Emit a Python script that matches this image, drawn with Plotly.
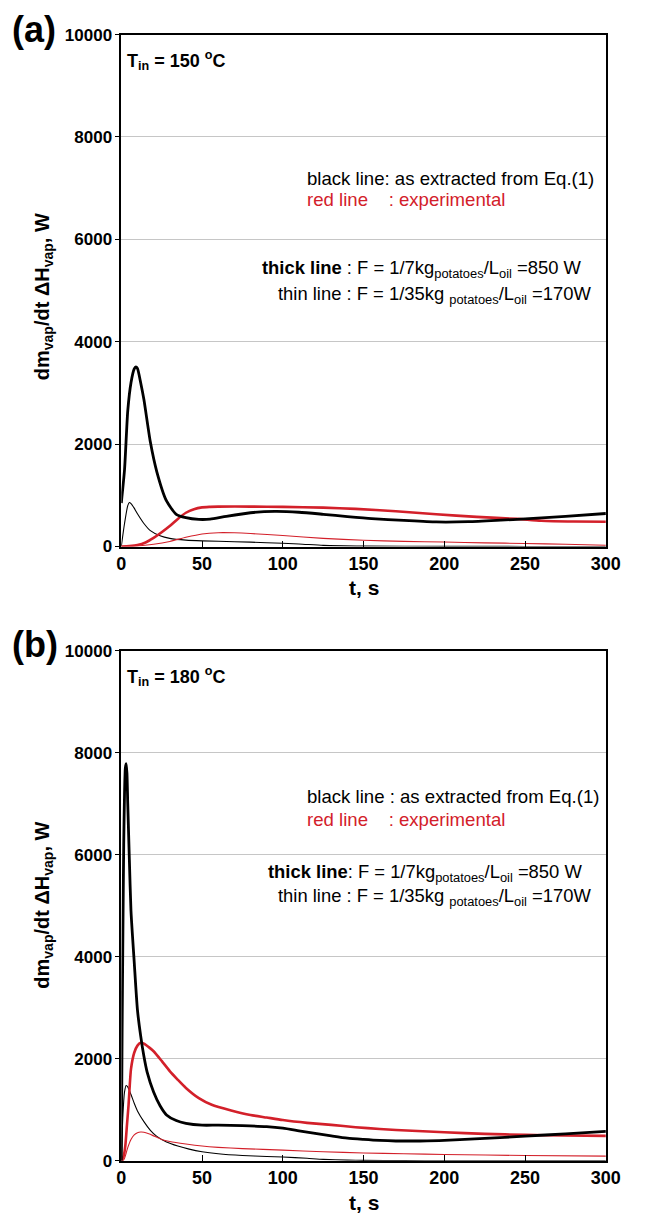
import plotly.graph_objects as go

W, H = 648, 1226
RED = "#d3202a"
FONT = "Liberation Sans"

# ---------------- Panel (a): T_in = 150 C ----------------
a_thick_black_t = [0, 2, 4, 6, 8, 9, 10, 12, 14, 18, 22, 28, 34, 40, 48, 55, 65, 80, 95, 110, 125, 140, 155, 175, 195, 215, 235, 250, 275, 300]
a_thick_black_v = [850, 1500, 2650, 3200, 3470, 3510, 3480, 3200, 2870, 2040, 1460, 890, 630, 565, 530, 535, 590, 660, 685, 670, 630, 585, 545, 510, 480, 485, 515, 540, 590, 645]

a_thick_red_t = [0, 5, 10, 15, 20, 25, 30, 35, 40, 45, 50, 55, 60, 80, 100, 125, 145, 170, 195, 220, 245, 260, 280, 300]
a_thick_red_v = [0, 10, 30, 80, 170, 280, 400, 540, 660, 730, 765, 775, 780, 780, 775, 760, 735, 690, 630, 580, 540, 505, 490, 485]

a_thin_black_t = [0, 2, 4, 5, 6, 8, 10, 14, 18, 24, 30, 40, 50, 70, 90, 110, 125, 150, 200, 250, 300]
a_thin_black_v = [0, 450, 800, 860, 840, 750, 640, 450, 310, 210, 160, 125, 110, 95, 75, 50, 22, 8, 4, 2, 0]

a_thin_red_t = [0, 10, 20, 30, 40, 50, 60, 70, 80, 100, 125, 150, 175, 200, 225, 250, 275, 300]
a_thin_red_v = [0, 10, 45, 100, 180, 245, 270, 268, 255, 215, 160, 122, 100, 88, 72, 60, 45, 25]

# ---------------- Panel (b): T_in = 180 C ----------------
b_thick_black_t = [0, 0.5, 1, 1.5, 2, 2.5, 3, 3.5, 4, 5, 6, 8, 10, 12, 14, 16, 20, 24, 28, 34, 40, 50, 60, 75, 90, 100, 110, 120, 130, 140, 150, 160, 170, 185, 200, 225, 250, 275, 300]
b_thick_black_v = [0, 2500, 4500, 6200, 7200, 7700, 7790, 7600, 7000, 5900, 4900, 3900, 2960, 2450, 2050, 1740, 1350, 1080, 900, 790, 737, 700, 700, 690, 670, 640, 590, 540, 490, 445, 420, 400, 390, 390, 400, 440, 485, 530, 577]

b_thick_red_t = [0, 1.5, 2.5, 3.5, 4.5, 6, 8, 10, 12, 14, 17, 20, 25, 30, 35, 40, 48, 56, 68, 80, 90, 100, 115, 130, 145, 160, 180, 200, 225, 250, 275, 300]
b_thick_red_v = [0, 100, 300, 700, 1100, 1800, 2120, 2260, 2315, 2300, 2230, 2150, 1960, 1760, 1590, 1430, 1230, 1100, 990, 900, 850, 800, 745, 705, 660, 625, 590, 560, 530, 510, 497, 490]

b_thin_black_t = [0, 1, 2, 3, 4, 6, 8, 10, 14, 18, 22, 28, 35, 42, 50, 60, 75, 90, 100, 115, 125, 140, 150, 175, 200, 250, 300]
b_thin_black_v = [0, 900, 1350, 1478, 1450, 1300, 1130, 980, 770, 600, 480, 370, 290, 230, 180, 140, 105, 85, 75, 50, 30, 15, 10, 5, 2, 0, 0]

b_thin_red_t = [0, 1, 2, 3, 4, 6, 8, 10, 12, 14, 17, 20, 25, 30, 40, 50, 60, 75, 100, 125, 150, 175, 200, 250, 300]
b_thin_red_v = [0, 0, 50, 150, 260, 420, 510, 550, 565, 560, 530, 490, 420, 380, 330, 290, 265, 240, 210, 180, 155, 140, 125, 105, 94]

x_ticks = [0, 50, 100, 150, 200, 250, 300]
y_ticks = [0, 2000, 4000, 6000, 8000, 10000]
y_tick_labels = ["0", "2000", "4000", "6000", "8000", "10000"]

panels = [
    dict(xa="x", ya="y", tt=(a_thick_black_t, a_thick_black_v, a_thick_red_t, a_thick_red_v,
                             a_thin_black_t, a_thin_black_v, a_thin_red_t, a_thin_red_v)),
    dict(xa="x2", ya="y2", tt=(b_thick_black_t, b_thick_black_v, b_thick_red_t, b_thick_red_v,
                               b_thin_black_t, b_thin_black_v, b_thin_red_t, b_thin_red_v)),
]

fig = go.Figure()
for p in panels:
    tbt, tbv, trt, trv, nbt, nbv, nrt, nrv = p["tt"]
    common = dict(mode="lines", xaxis=p["xa"], yaxis=p["ya"], showlegend=False,
                  line_shape="spline", hoverinfo="skip")
    fig.add_trace(go.Scatter(x=nbt, y=nbv, line=dict(color="black", width=1.1, smoothing=0.6), **common))
    fig.add_trace(go.Scatter(x=nrt, y=nrv, line=dict(color=RED, width=1.1, smoothing=0.6), **common))
    fig.add_trace(go.Scatter(x=trt, y=trv, line=dict(color=RED, width=2.6, smoothing=0.6), **common))
    fig.add_trace(go.Scatter(x=tbt, y=tbv, line=dict(color="black", width=2.8, smoothing=0.6), **common))

def px_x(px):
    return px / W

def px_y(py):
    return 1 - py / H

xd = [px_x(120), px_x(620)]
xaxis_style = dict(range=[0, 300], tickvals=x_ticks, ticks="inside", ticklen=6, tickwidth=1.2,
                   tickcolor="black", showline=True, linecolor="black", linewidth=1.6, mirror=True,
                   showgrid=False, zeroline=False,
                   tickfont=dict(family=FONT, size=18, color="black", weight="bold"))
yaxis_style = dict(range=[0, 10000], tickvals=y_ticks, ticktext=y_tick_labels, ticks="outside",
                   ticklen=4, tickwidth=1.2,
                   tickcolor="black", showline=True, linecolor="black", linewidth=1.6, mirror=True,
                   showgrid=True, gridcolor="#c6c6c6", gridwidth=1.4, zeroline=False,
                   tickfont=dict(family=FONT, size=17, color="black", weight="bold"))

fig.update_layout(
    width=W, height=H, margin=dict(l=0, r=0, t=0, b=0),
    paper_bgcolor="white", plot_bgcolor="white",
    xaxis=dict(domain=xd, anchor="y", **xaxis_style),
    yaxis=dict(domain=[px_y(546), px_y(26)], anchor="x", **yaxis_style),
    xaxis2=dict(domain=xd, anchor="y2", **xaxis_style),
    yaxis2=dict(domain=[px_y(1170), px_y(652)], anchor="x2", **yaxis_style),
)

ann = []
def text(x, y, s, size=15, color="black", xanchor="left", angle=0):
    ann.append(dict(x=px_x(x), y=px_y(y), xref="paper", yref="paper", text=s, showarrow=False,
                    xanchor=xanchor, yanchor="middle", textangle=angle,
                    font=dict(family=FONT, size=size, color=color)))

nb = "\u00a0"
for off, label, tin, bl in [(0, "(a)", "150", "black line: as extracted from Eq.(1)"),
                             (626, "(b)", "180", "black line : as extracted from Eq.(1)")]:
    text(5, 21 + off - (2 if off else 0), f"<b>{label}</b>", size=36)
    text(124, 52 + off, f"<b>T<sub>in</sub> = {tin} <sup>o</sup>C</b>", size=18)
    text(310, 172 + off + (2 if off else 0), bl, size=18.6)
    text(310, 194 + off + (3 if off else 0), "red line" + nb * 4 + ": experimental", size=18.6, color=RED)
    sep = " : " if not off else ": "
    text(597, 264 + off - (12 if off else 0),
         f"<b>thick line</b>{sep}F = 1/7kg<sub>potatoes</sub>/L<sub>oil</sub> =850 W",
         size=18.4, xanchor="right")
    text(607, 291 + off - (15 if off else 0),
         "thin line : F = 1/35kg <sub>potatoes</sub>/L<sub>oil</sub> =170W",
         size=18.4, xanchor="right")
    text(40, 292 + off - (8 if off else 0), "<b>dm<sub>vap</sub>/dt \u0394H<sub>vap</sub>, W</b>",
         size=20, angle=-90, xanchor="center")
    text(370, 588 + off - (2 if off else 0), "<b>t, s</b>", size=21, xanchor="center")

fig.update_layout(annotations=ann)
fig.write_html("out.html")
